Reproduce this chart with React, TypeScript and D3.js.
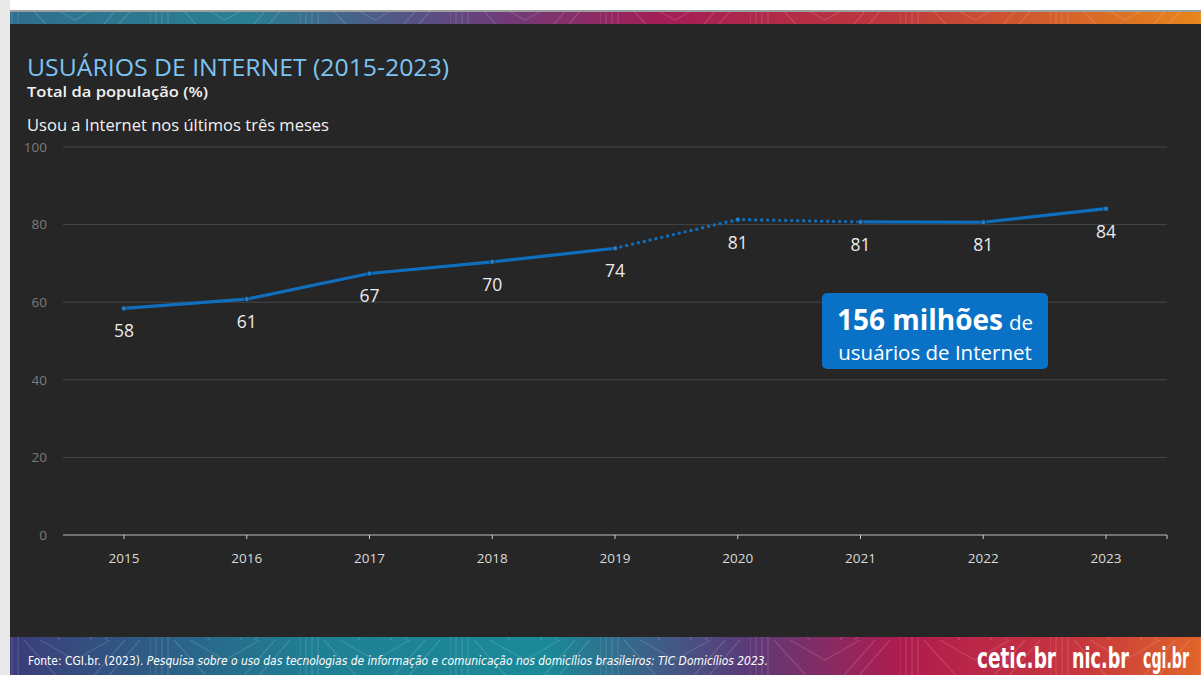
import React from "react";
import * as d3 from "d3";

// Internet users in Brazil, share of total population (%)
const years = ["2015", "2016", "2017", "2018", "2019", "2020", "2021", "2022", "2023"];
const usersPct = [58.4, 60.8, 67.4, 70.4, 73.9, 81.3, 80.7, 80.6, 84.1];
// segments drawn with a dotted stroke (survey methodology change years)
const dottedFrom = 4;
const dottedTo = 6;
const yTicks = [0, 20, 40, 60, 80, 100];
const logos = [
  { name: "cetic.br", x: 977, w: 79 },
  { name: "nic.br", x: 1072, w: 57 },
  { name: "cgi.br", x: 1143, w: 46 },
];

const W = 1201;
const H = 675;
const FONT = "'Open Sans', 'Noto Sans', sans-serif";
const NARROW = "'Liberation Sans Narrow', 'DejaVu Sans Condensed', sans-serif";

export default function App() {
  const x = d3.scalePoint<string>().domain(years).range([124, 1106]);
  const y = d3.scaleLinear().domain([0, 100]).range([535, 147]);
  const fmt = d3.format(".0f");
  const pts = years.map((yr, i) => ({ yr, v: usersPct[i], i }));
  const line = d3
    .line<{ yr: string; v: number; i: number }>()
    .x((d) => x(d.yr) as number)
    .y((d) => y(d.v));

  const solidA = pts.slice(0, dottedFrom + 1);
  const dotted = pts.slice(dottedFrom, dottedTo + 1);
  const solidB = pts.slice(dottedTo);
  const xEnd = 1167;
  const xStart = 63;

  return (
    <div style={{ position: "absolute", left: 0, top: 0 }}>
      <svg width={W} height={H} viewBox={`0 0 ${W} ${H}`} style={{ display: "block" }}>
        <defs>
          <linearGradient id="topBand" x1="0" x2="1" y1="0" y2="0">
            <stop offset="0" stopColor="#2f6f8e" />
            <stop offset="0.2" stopColor="#2a7f93" />
            <stop offset="0.4" stopColor="#6a3f7c" />
            <stop offset="0.55" stopColor="#a41d55" />
            <stop offset="0.75" stopColor="#bf3a3a" />
            <stop offset="1" stopColor="#e8851c" />
          </linearGradient>
          <linearGradient id="bottomBand" x1="0" x2="1" y1="0" y2="0">
            <stop offset="0" stopColor="#3b3d78" />
            <stop offset="0.25" stopColor="#1f7f94" />
            <stop offset="0.45" stopColor="#1a8a98" />
            <stop offset="0.62" stopColor="#5b3a78" />
            <stop offset="0.75" stopColor="#b01c4e" />
            <stop offset="0.9" stopColor="#c8363d" />
            <stop offset="1" stopColor="#e0652a" />
          </linearGradient>
          <pattern id="chev" width="150" height="40" patternUnits="userSpaceOnUse">
            <path
              d="M0,0 L0,40 M6,0 L6,40 M12,0 L12,40 M18,0 L18,40 M24,0 L60,40 M40,0 L75,20 L110,0 M90,40 L125,0 M105,40 L140,0"
              stroke="#ffffff"
              strokeOpacity="0.13"
              strokeWidth="1.2"
              fill="none"
            />
          </pattern>
        </defs>

        {/* page frame */}
        <rect x={0} y={0} width={W} height={H} fill="#ffffff" />
        <rect x={0} y={0} width={10} height={H} fill="#e9e9e9" />
        <rect x={10} y={10} width={W - 10} height={2} fill="#9aa0a0" />
        <rect x={10} y={12} width={W - 10} height={H - 12} fill="#262626" />

        {/* top decorative band */}
        <rect x={10} y={12} width={W - 10} height={12} fill="url(#topBand)" />
        <rect x={10} y={12} width={W - 10} height={12} fill="url(#chev)" />

        {/* titles */}
        <text x={27} y={76} fill="#7cc4f2" fontFamily={FONT} fontSize={23.5} textLength={422} lengthAdjust="spacingAndGlyphs">
          USUÁRIOS DE INTERNET (2015-2023)
        </text>
        <text x={27} y={97} fill="#f2f2f2" fontFamily={FONT} fontSize={15} fontWeight={600} textLength={181} lengthAdjust="spacingAndGlyphs">
          Total da população (%)
        </text>
        <text x={27} y={131} fill="#f2f2f2" fontFamily={FONT} fontSize={16.5} textLength={302} lengthAdjust="spacingAndGlyphs">
          Usou a Internet nos últimos três meses
        </text>

        {/* gridlines and y labels */}
        {yTicks.map((t) => (
          <g key={t}>
            {t !== 0 && (
              <line x1={xStart} x2={xEnd} y1={y(t)} y2={y(t)} stroke="#474747" strokeWidth={1} />
            )}
            <text
              x={47}
              y={y(t)}
              dy="0.35em"
              textAnchor="end"
              fill="#7c7c7c"
              fontFamily={FONT}
              fontSize={13.5}
            >
              {t}
            </text>
          </g>
        ))}

        {/* x axis */}
        <line x1={xStart} x2={xEnd} y1={y(0)} y2={y(0)} stroke="#8a8a8a" strokeWidth={1.5} />
        {years.map((yr) => (
          <g key={yr}>
            <line x1={x(yr)} x2={x(yr)} y1={y(0)} y2={y(0) + 4} stroke="#cfcfcf" strokeWidth={1} />
            <text
              x={x(yr)}
              y={563}
              textAnchor="middle"
              fill="#dadada"
              fontFamily={FONT}
              fontSize={13.5}
            >
              {yr}
            </text>
          </g>
        ))}
        <line x1={xEnd} x2={xEnd} y1={y(0)} y2={y(0) + 4} stroke="#cfcfcf" strokeWidth={1} />

        {/* series */}
        <path d={line(solidA) || ""} fill="none" stroke="#0f6fbf" strokeWidth={3.2} strokeLinejoin="round" />
        <path
          d={line(dotted) || ""}
          fill="none"
          stroke="#0f6fbf"
          strokeWidth={3.4}
          strokeLinecap="round"
          strokeDasharray="0 6"
        />
        <path d={line(solidB) || ""} fill="none" stroke="#0f6fbf" strokeWidth={3.2} strokeLinejoin="round" />
        {pts.map((d) => (
          <circle
            key={d.yr}
            cx={x(d.yr)}
            cy={y(d.v)}
            r={2.6}
            fill="#1b7fd0"
            stroke="#262626"
            strokeWidth={0.8}
          />
        ))}

        {/* value labels */}
        {pts.map((d) => (
          <text
            key={"l" + d.yr}
            x={x(d.yr)}
            y={y(d.v) + 29}
            textAnchor="middle"
            fill="#ececec"
            fontFamily={FONT}
            fontSize={17.5}
          >
            {fmt(d.v)}
          </text>
        ))}

        {/* callout */}
        <rect x={822} y={293} width={226} height={76} rx={5} fill="#0a72c6" />
        <text x={935} y={330} textAnchor="middle" fill="#ffffff" fontFamily={FONT}>
          <tspan fontSize={28} fontWeight={700}>156 milhões</tspan>
          <tspan fontSize={20.5} dx={6}>de</tspan>
        </text>
        <text x={935} y={360} textAnchor="middle" fill="#ffffff" fontFamily={FONT} fontSize={20.5}>
          usuários de Internet
        </text>

        {/* bottom band */}
        <rect x={10} y={637} width={W - 10} height={H - 637} fill="url(#bottomBand)" />
        <rect x={10} y={637} width={W - 10} height={H - 637} fill="url(#chev)" />
        <text
          x={28}
          y={665}
          fill="#ffffff"
          fontFamily={NARROW}
          fontSize={12.5}
          textLength={740}
          lengthAdjust="spacingAndGlyphs"
        >
          <tspan>Fonte: CGI.br. (2023). </tspan>
          <tspan fontStyle="italic">
            Pesquisa sobre o uso das tecnologias de informação e comunicação nos domicílios brasileiros: TIC Domicílios 2023.
          </tspan>
        </text>
        {logos.map((l) => (
          <g key={l.name} transform={`translate(${l.x},668) scale(1,1.6)`}>
            <text
              x={0}
              y={0}
              fill="#ffffff"
              fontFamily={NARROW}
              fontWeight={700}
              fontSize={18}
              textLength={l.w}
              lengthAdjust="spacingAndGlyphs"
            >
              {l.name}
            </text>
          </g>
        ))}
      </svg>
    </div>
  );
}
